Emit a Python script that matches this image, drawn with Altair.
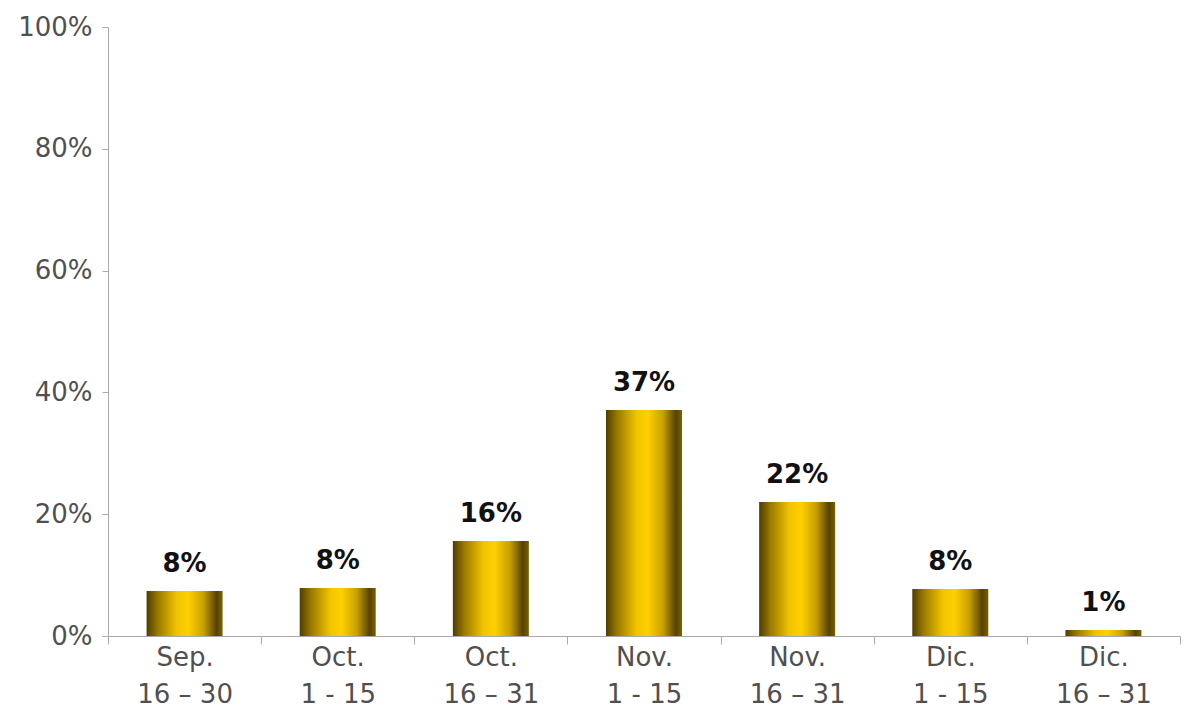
import altair as alt
import pandas as pd

months = ["Sep.", "Oct.", "Oct.", "Nov.", "Nov.", "Dic.", "Dic."]
days = ["16 – 30", "1 - 15", "16 – 31", "1 - 15", "16 – 31", "1 - 15", "16 – 31"]
values = [7.4, 7.9, 15.6, 37.1, 22.0, 7.7, 1.0]
labels = ["8%", "8%", "16%", "37%", "22%", "8%", "1%"]

cats = [m + "\n" + d for m, d in zip(months, days)]
df = pd.DataFrame({"cat": cats, "value": values, "label": labels})

FONT = "DejaVu Sans"

gold = alt.Gradient(
    gradient="linear",
    x1=0, x2=1, y1=0, y2=0,
    stops=[
        alt.GradientStop(offset=0, color="#4f3e00"),
        alt.GradientStop(offset=0.15, color="#9a7a00"),
        alt.GradientStop(offset=0.4, color="#f0c400"),
        alt.GradientStop(offset=0.55, color="#ffd000"),
        alt.GradientStop(offset=0.75, color="#c8a000"),
        alt.GradientStop(offset=0.92, color="#554200"),
        alt.GradientStop(offset=1, color="#7a6200"),
    ],
)

x = alt.X(
    "cat:N",
    sort=cats,
    title=None,
    scale=alt.Scale(paddingInner=0, paddingOuter=0),
    axis=alt.Axis(
        labelAngle=0,
        labelExpr="split(datum.label, '\\n')",
        labelFont=FONT,
        labelFontSize=26,
        labelColor="#505050",
        labelLineHeight=37,
        labelPadding=0,
        tickBand="extent",
        tickSize=8,
        tickColor="#aaaaaa",
        domainColor="#aaaaaa",
        grid=False,
    ),
)

y = alt.Y(
    "value:Q",
    title=None,
    scale=alt.Scale(domain=[0, 100]),
    axis=alt.Axis(
        values=[0, 20, 40, 60, 80, 100],
        labelExpr="datum.value + '%'",
        labelFont=FONT,
        labelFontSize=26,
        labelColor="#505050",
        labelPadding=10,
        tickSize=6,
        tickColor="#aaaaaa",
        domainColor="#aaaaaa",
        grid=False,
    ),
)

bars = alt.Chart(df).mark_bar(color=gold, size=76).encode(x=x, y=y)

text = alt.Chart(df).mark_text(
    baseline="bottom",
    dy=-14,
    font=FONT,
    fontSize=26,
    fontWeight="bold",
    color="#111111",
).encode(x=alt.X("cat:N", sort=cats), y=alt.Y("value:Q"), text="label:N")

chart = (
    alt.layer(bars, text)
    .properties(
        width=1072,
        height=609,
        padding={"left": 9, "top": 6, "right": 0, "bottom": 0},
        background="white",
    )
    .configure_view(stroke=None)
)

chart.save("out.html", embed_options={"renderer": "svg", "actions": False})
